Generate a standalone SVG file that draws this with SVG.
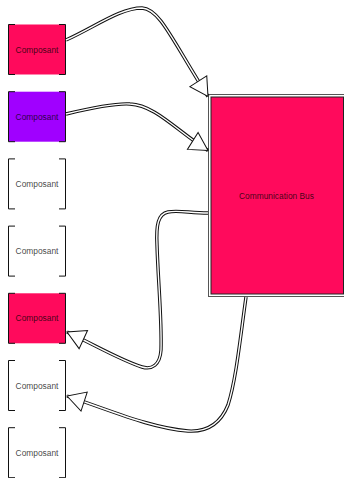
<svg xmlns="http://www.w3.org/2000/svg" width="344" height="478" viewBox="0 0 344 478">
  <style>
    .label { font-family: "Liberation Sans", Arial, sans-serif; font-size: 8.4px; fill: #000; fill-opacity: 0.75; text-anchor: middle; }
    .bracket { fill: none; stroke: #111; stroke-width: 1; }
    .pink { fill: #FF0A5C; }
    .violet { fill: #A000FF; }
    .wire-outer { fill: none; stroke: #111; stroke-width: 3.4; }
    .wire-inner { fill: none; stroke: #fff; stroke-width: 1.4; }
  </style>
  <defs>
    <!-- open triangular arrowhead, tip at the path end -->
    <marker id="open-arrow" markerUnits="userSpaceOnUse" markerWidth="24" markerHeight="24" viewBox="-20 -12 22 24" refX="0" refY="0" orient="auto">
      <path d="M0,0 L-18,-10 L-18,10 Z" fill="#fff" stroke="#111" stroke-width="1" stroke-linejoin="miter"/>
    </marker>
    <!-- bracket outline shared by every component box (50 high, 58 wide) -->
    <path id="brackets" d="M15,0.5 H8.5 V50.5 H15 M59,0.5 H65.5 V50.5 H59"/>
  </defs>

  <!-- component boxes -->
  <g id="comp1" transform="translate(0,24)">
    <rect class="pink" x="8.5" y="0.5" width="57" height="50"/>
    <use href="#brackets" class="bracket"/>
    <text class="label" x="37" y="28.5">Composant</text>
  </g>
  <g id="comp2" transform="translate(0,91.2)">
    <rect class="violet" x="8.5" y="0.5" width="57" height="50"/>
    <use href="#brackets" class="bracket"/>
    <text class="label" x="37" y="28.5">Composant</text>
  </g>
  <g id="comp3" transform="translate(0,158.4)">
    <use href="#brackets" class="bracket"/>
    <text class="label" x="37" y="28.5">Composant</text>
  </g>
  <g id="comp4" transform="translate(0,225.6)">
    <use href="#brackets" class="bracket"/>
    <text class="label" x="37" y="28.5">Composant</text>
  </g>
  <g id="comp5" transform="translate(0,292.8)">
    <rect class="pink" x="8.5" y="0.5" width="57" height="50"/>
    <use href="#brackets" class="bracket"/>
    <text class="label" x="37" y="28.5">Composant</text>
  </g>
  <g id="comp6" transform="translate(0,360)">
    <use href="#brackets" class="bracket"/>
    <text class="label" x="37" y="28.5">Composant</text>
  </g>
  <g id="comp7" transform="translate(0,427.2)">
    <use href="#brackets" class="bracket"/>
    <text class="label" x="37" y="28.5">Composant</text>
  </g>

  <!-- communication bus with double border -->
  <g id="bus">
    <rect x="208.5" y="94.5" width="140" height="202" fill="#fff" stroke="#555" stroke-width="1"/>
    <rect class="pink" x="211" y="97" width="132.5" height="197" stroke="#222" stroke-width="1"/>
    <text class="label" x="276.5" y="198.5">Communication Bus</text>
  </g>

  <!-- connectors: black casing under a thin white core -->
  <g id="connectors">
    <path class="wire-outer" d="M66,40 C95,27 120,8 142,8 C160,9 172,40 208,96.5"/>
    <path class="wire-inner" marker-end="url(#open-arrow)" d="M66,40 C95,27 120,8 142,8 C160,9 172,40 208,96.5"/>

    <path class="wire-outer" d="M66,114 C95,107 115,103 130,104 C155,105 177,131 208,150.5"/>
    <path class="wire-inner" marker-end="url(#open-arrow)" d="M66,114 C95,107 115,103 130,104 C155,105 177,131 208,150.5"/>

    <path class="wire-outer" d="M208,213 C190,213 178,210 168,212 C158,214 156,225 157,245 C158,280 162,320 161,350 C160,365 152,370 142,367 C120,360 95,345 67,332"/>
    <path class="wire-inner" marker-end="url(#open-arrow)" d="M208,213 C190,213 178,210 168,212 C158,214 156,225 157,245 C158,280 162,320 161,350 C160,365 152,370 142,367 C120,360 95,345 67,332"/>

    <path class="wire-outer" d="M246,297 C240,340 236,380 228,405 C220,425 205,432 188,431 C150,428 110,410 67,396"/>
    <path class="wire-inner" marker-end="url(#open-arrow)" d="M246,297 C240,340 236,380 228,405 C220,425 205,432 188,431 C150,428 110,410 67,396"/>
  </g>
</svg>
